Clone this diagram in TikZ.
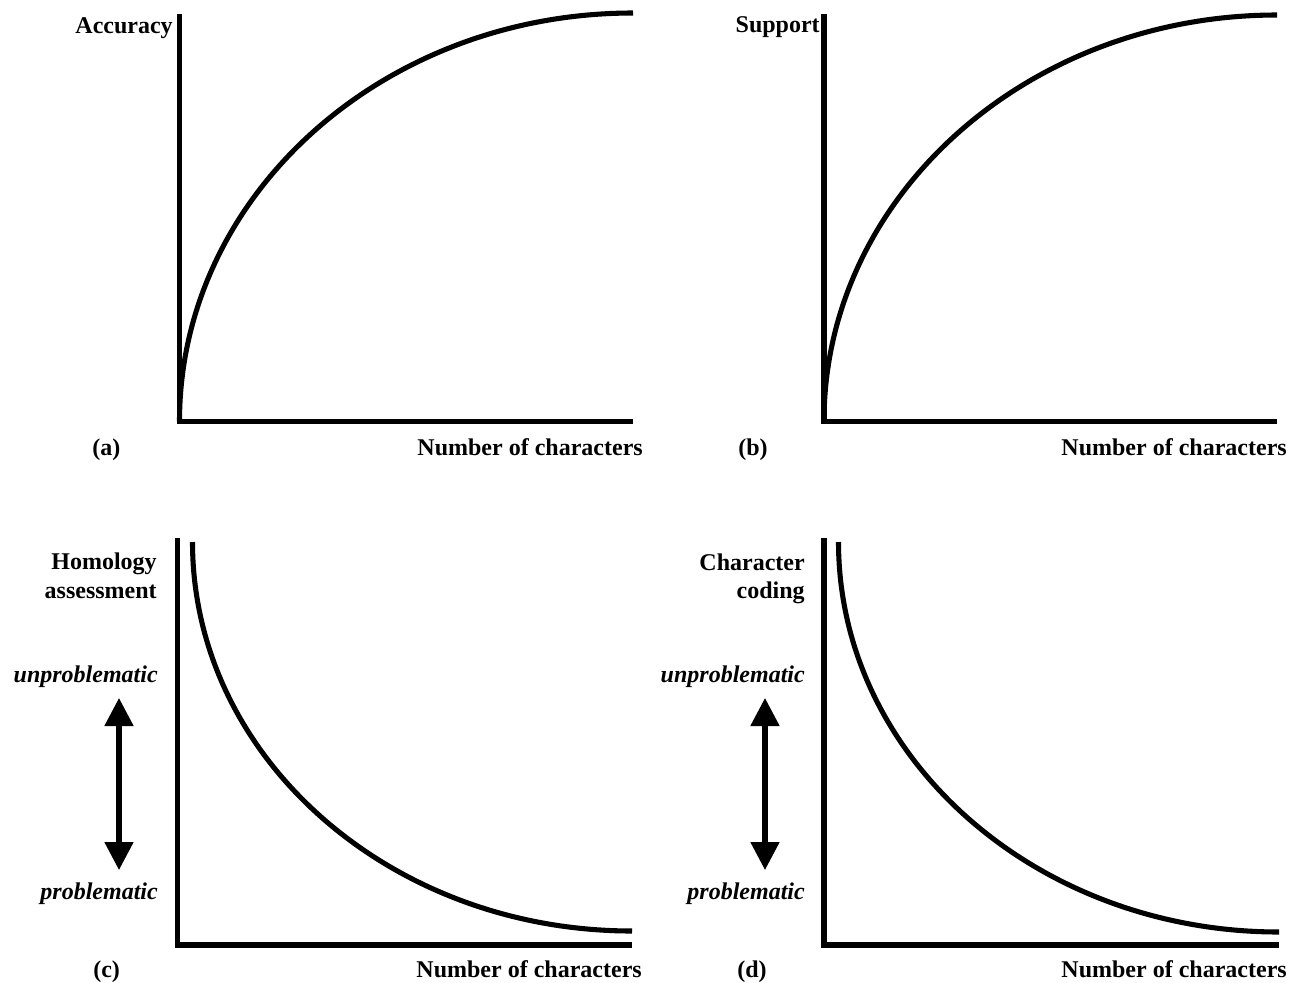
\documentclass[tikz,border=0pt]{standalone}
\usepackage{fontspec}
\setmainfont{Liberation Serif}
\usetikzlibrary{arrows.meta}

\begin{document}
\begin{tikzpicture}[x=0.75pt,y=0.75pt,yscale=-1,xscale=1,
  axis/.style={line width=4.2pt, line join=miter},
  trend/.style={line width=3.8pt},
  lbl/.style={font=\bfseries\fontsize{18}{21.6}\selectfont, inner sep=0pt, anchor=base east},
  ilbl/.style={font=\bfseries\itshape\fontsize{18}{21.6}\selectfont, inner sep=0pt, anchor=base east},
  tag/.style={font=\bfseries\fontsize{18}{21.6}\selectfont, inner sep=0pt, anchor=base west},
  scalearrow/.style={line width=3.8pt, {Triangle[length=21pt,width=21pt]}-{Triangle[length=21pt,width=21pt]}}]
\useasboundingbox (0,0) rectangle (1296,982);

%Panel (a)
\draw [axis] (179.5,14) -- (179.5,421.5) -- (633,421.5) ;
\draw [trend] (179.5,421.5) .. controls (179.5,195.9) and (382.5,13) .. (633,13) ;
% Text Node
\node [lbl] (ylab-a) at (173,33) {Accuracy};
\node [tag] (tag-a) at (92,455) {(a)};
\node [lbl] (xlab-a) at (643,455) {Number of characters};

%Panel (b)
\draw [axis] (824,14) -- (824,421.5) -- (1277,421.5) ;
\draw [trend] (824,421.5) .. controls (824,197) and (1026.8,15) .. (1277,15) ;
% Text Node
\node [lbl] (ylab-b) at (820,32) {Support};
\node [tag] (tag-b) at (738,455) {(b)};
\node [lbl] (xlab-b) at (1287,455) {Number of characters};

%Panel (c)
\draw [axis] (177.5,538) -- (177.5,945) -- (632,945) ;
\draw [trend] (192.5,542) .. controls (192.5,756.8) and (389.3,931) .. (632,931) ;
\coordinate (up-c) at (119,698) ;
\coordinate (dn-c) at (119,870) ;
\draw [scalearrow] (dn-c) -- (up-c) ;
% Text Node
\node [lbl] (ylab-c1) at (157,569) {Homology};
\node [lbl] (ylab-c2) at (157,598) {assessment};
\node [ilbl] (good-c) at (158,682) {unproblematic};
\node [ilbl] (bad-c) at (158,899) {problematic};
\node [tag] (tag-c) at (93,977) {(c)};
\node [lbl] (xlab-c) at (642,977) {Number of characters};

%Panel (d)
\draw [axis] (824,538) -- (824,945) -- (1279,945) ;
\draw [trend] (838.5,542) .. controls (838.5,757.4) and (1035.7,932) .. (1279,932) ;
\coordinate (up-d) at (765,698) ;
\coordinate (dn-d) at (765,870) ;
\draw [scalearrow] (dn-d) -- (up-d) ;
% Text Node
\node [lbl] (ylab-d1) at (805,570) {Character};
\node [lbl] (ylab-d2) at (805,598) {coding};
\node [ilbl] (good-d) at (805,682) {unproblematic};
\node [ilbl] (bad-d) at (805,899) {problematic};
\node [tag] (tag-d) at (737,977) {(d)};
\node [lbl] (xlab-d) at (1287,977) {Number of characters};

\end{tikzpicture}
\end{document}
